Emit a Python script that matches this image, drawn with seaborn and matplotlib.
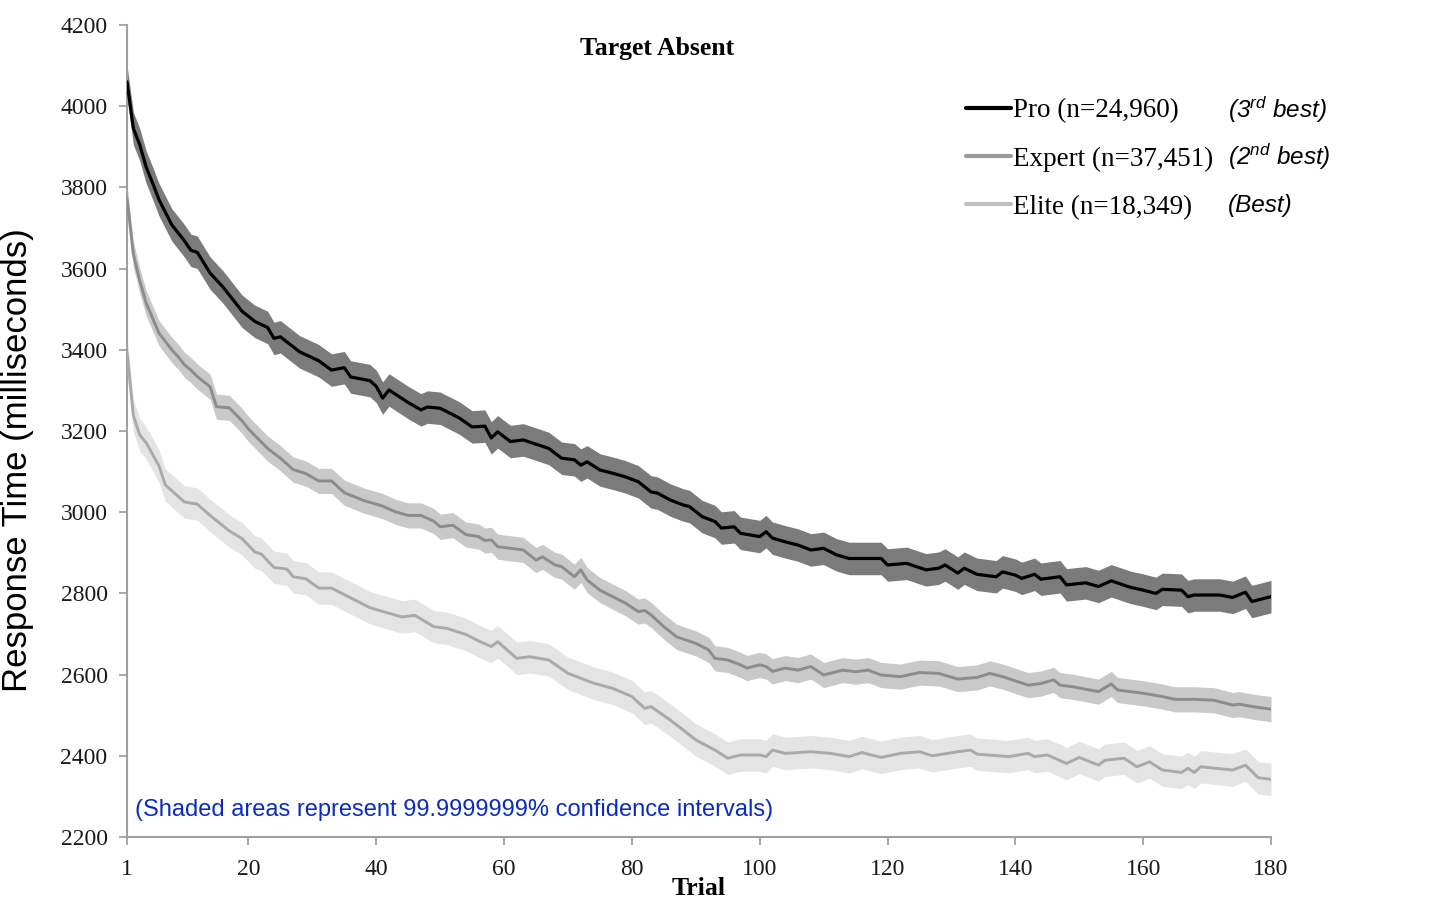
import numpy as np
import pandas as pd
import matplotlib
matplotlib.use("Agg")
import matplotlib.pyplot as plt
from matplotlib.lines import Line2D
import seaborn as sns

# values (trial, mean response time in ms)
pro_trial = [1, 2, 3, 4, 5, 6, 8, 10, 11, 12, 14, 16, 18, 19, 21, 23, 24, 25, 28, 31,
             33, 35, 36, 39, 40, 41, 42, 45, 47, 48, 50, 53, 55, 57, 58, 59, 61, 63, 67, 69,
             71, 72, 73, 75, 77, 79, 81, 83, 84, 86, 88, 89, 91, 93, 94, 96, 97, 100, 101, 102,
             104, 106, 108, 110, 112, 114, 117, 119, 120, 123, 126, 128, 129, 131, 132, 134, 137, 138, 140, 141,
             143, 144, 147, 148, 151, 153, 155, 158, 160, 162, 163, 166, 167, 168, 172, 174, 176, 177, 180]
pro_rt = [4060, 3945, 3905, 3850, 3811, 3770, 3708, 3668, 3645, 3640, 3589, 3555, 3515, 3495, 3470, 3455, 3428, 3432, 3395, 3373,
          3350, 3356, 3333, 3324, 3310, 3281, 3301, 3270, 3252, 3259, 3256, 3232, 3210, 3212, 3183, 3198, 3174, 3178, 3157, 3133,
          3129, 3116, 3124, 3104, 3096, 3087, 3075, 3050, 3047, 3030, 3018, 3014, 2989, 2977, 2961, 2964, 2948, 2940, 2952, 2936,
          2927, 2919, 2907, 2911, 2895, 2886, 2886, 2886, 2870, 2874, 2858, 2862, 2870, 2850, 2862, 2847, 2841, 2853, 2845, 2837,
          2847, 2835, 2841, 2821, 2826, 2817, 2831, 2815, 2808, 2800, 2810, 2808, 2792, 2796, 2796, 2790, 2803, 2780, 2792]

expert_trial = [1, 2, 3, 4, 6, 8, 9, 10, 11, 12, 14, 15, 17, 19, 20, 23, 25, 27, 29, 31,
                33, 35, 38, 41, 43, 45, 47, 49, 50, 52, 54, 56, 57, 58, 59, 63, 65, 66, 68, 69,
                71, 72, 73, 75, 77, 79, 81, 82, 83, 85, 87, 90, 92, 93, 95, 97, 98, 100, 101, 102,
                104, 106, 108, 110, 113, 115, 117, 119, 122, 125, 128, 131, 134, 136, 138, 142, 144, 146, 147, 149,
                153, 155, 156, 160, 163, 165, 168, 171, 174, 175, 178, 180]
expert_rt = [3774, 3635, 3570, 3515, 3441, 3400, 3383, 3363, 3350, 3334, 3309, 3260, 3257, 3225, 3205, 3157, 3133, 3105, 3095, 3077,
             3077, 3048, 3029, 3015, 3001, 2992, 2992, 2978, 2964, 2968, 2945, 2940, 2930, 2932, 2915, 2907, 2882, 2890, 2870, 2866,
             2841, 2858, 2833, 2808, 2792, 2776, 2755, 2758, 2747, 2718, 2693, 2677, 2661, 2640, 2636, 2624, 2616, 2624, 2620, 2608,
             2616, 2611, 2620, 2599, 2611, 2607, 2611, 2599, 2595, 2605, 2603, 2589, 2593, 2603, 2595, 2574, 2578, 2587, 2574, 2570,
             2558, 2577, 2562, 2554, 2546, 2539, 2539, 2537, 2525, 2527, 2519, 2515]

elite_trial = [1, 2, 3, 4, 6, 7, 9, 10, 12, 14, 17, 19, 21, 22, 24, 26, 27, 29, 31, 33,
               36, 39, 42, 44, 46, 47, 49, 51, 52, 54, 56, 58, 59, 62, 64, 67, 70, 74, 77, 80,
               82, 83, 86, 88, 90, 93, 95, 97, 100, 101, 102, 104, 108, 111, 114, 116, 119, 122, 125, 127,
               131, 133, 134, 139, 142, 143, 145, 148, 150, 153, 154, 157, 159, 161, 163, 166, 167, 168, 169, 174,
               176, 178, 180]
elite_rt = [3395, 3237, 3190, 3171, 3114, 3067, 3039, 3025, 3020, 2992, 2954, 2935, 2902, 2897, 2864, 2860, 2841, 2836, 2813, 2813,
            2789, 2765, 2751, 2742, 2746, 2737, 2718, 2714, 2709, 2699, 2683, 2669, 2681, 2640, 2644, 2636, 2603, 2579, 2566, 2546,
            2517, 2521, 2488, 2464, 2439, 2414, 2394, 2402, 2402, 2398, 2414, 2406, 2410, 2406, 2398, 2408, 2396, 2406, 2410, 2400,
            2410, 2414, 2404, 2398, 2406, 2398, 2402, 2381, 2396, 2377, 2389, 2394, 2373, 2385, 2365, 2359, 2369, 2359, 2373, 2365,
            2377, 2346, 2342]

groups = ["Pro (n=24,960)", "Expert (n=37,451)", "Elite (n=18,349)"]
ranks = ["(3$^{rd}$ best)", "(2$^{nd}$ best)", "(Best)"]
ci_half = [40, 31, 40]  # half width of the shaded interval, ms

x_ticks = [1, 20, 40, 60, 80, 100, 120, 140, 160, 180]
y_ticks = list(range(2200, 4201, 200))

sns.set_theme(style="white")
plt.rcParams["font.family"] = ["Liberation Serif", "DejaVu Serif"]
plt.rcParams["text.color"] = "black"
plt.rcParams["axes.labelcolor"] = "black"
plt.rcParams["mathtext.fontset"] = "custom"
plt.rcParams["mathtext.rm"] = "Liberation Sans:italic"
plt.rcParams["mathtext.it"] = "Liberation Sans:italic"

frames = []
for name, t, rt in zip(groups, [pro_trial, expert_trial, elite_trial], [pro_rt, expert_rt, elite_rt]):
    frames.append(pd.DataFrame({"Trial": t, "RT": rt, "Group": name}))
df = pd.concat(frames, ignore_index=True)

fig = plt.figure(figsize=(14.56, 9.16), dpi=100)
ax = fig.add_axes([127 / 1456, 1 - 837 / 916, 1144 / 1456, 812 / 916])

line_colors = ["#000000", "#8c8c8c", "#a9a9a9"]
band_colors = ["#7b7b7b", "#c9c9c9", "#e4e4e4"]
line_widths = [2.3, 2.1, 2.1]

for name, lc, bc, lw, hw in zip(groups, line_colors, band_colors, line_widths, ci_half):
    sub = df[df["Group"] == name]
    ax.fill_between(sub["Trial"], sub["RT"] - hw, sub["RT"] + hw, color=bc, lw=0, zorder=1)
    sns.lineplot(data=sub, x="Trial", y="RT", color=lc, lw=lw, ax=ax, zorder=3, legend=False)

ax.set_xlim(1, 180)
ax.set_ylim(2200, 4200)
ax.set_xticks(x_ticks)
ax.set_yticks(y_ticks)
ax.tick_params(bottom=True, left=True, direction="out", length=6, width=1.3,
               color="#a0a0a0", labelsize=17, labelcolor="#1a1a1a")
ax.tick_params(axis="y", pad=8)
ax.tick_params(axis="x", pad=10)
for side in ["top", "right"]:
    ax.spines[side].set_visible(False)
for side in ["left", "bottom"]:
    ax.spines[side].set_color("#a0a0a0")
    ax.spines[side].set_linewidth(1.5)

ax.set_xlabel("Trial", fontsize=18.5, fontweight="bold")
ax.xaxis.set_label_coords(0.5, -0.049)
ax.set_ylabel("Response Time (milliseconds)", fontsize=25, family="Liberation Sans")
ax.yaxis.set_label_coords(-0.081, 0.464)

ax.text(0.463, 0.9705, "Target Absent", transform=ax.transAxes, ha="center", va="center",
        fontsize=18.5, fontweight="bold")

handles = [Line2D([0], [0], color=c, lw=3) for c in ["#000000", "#9a9a9a", "#c0c0c0"]]
ax.legend(handles, groups, loc="upper left", bbox_to_anchor=(0.7334, 0.91), frameon=False,
          fontsize=19.5, handlelength=1.65, handletextpad=0.1, labelspacing=0.86,
          borderaxespad=0, borderpad=0)

for r, yy in zip(ranks, [0.8953, 0.8374, 0.7783]):
    ax.text(0.9624, yy, r, transform=ax.transAxes, ha="left", va="center", fontsize=17.5,
            family="Liberation Sans", style="italic")

ax.text(0.007, 0.0333, "(Shaded areas represent 99.9999999% confidence intervals)",
        transform=ax.transAxes, ha="left", va="center", fontsize=17,
        family="Liberation Sans", color="#0b2bbf")

fig.savefig("out.png", dpi=100)
